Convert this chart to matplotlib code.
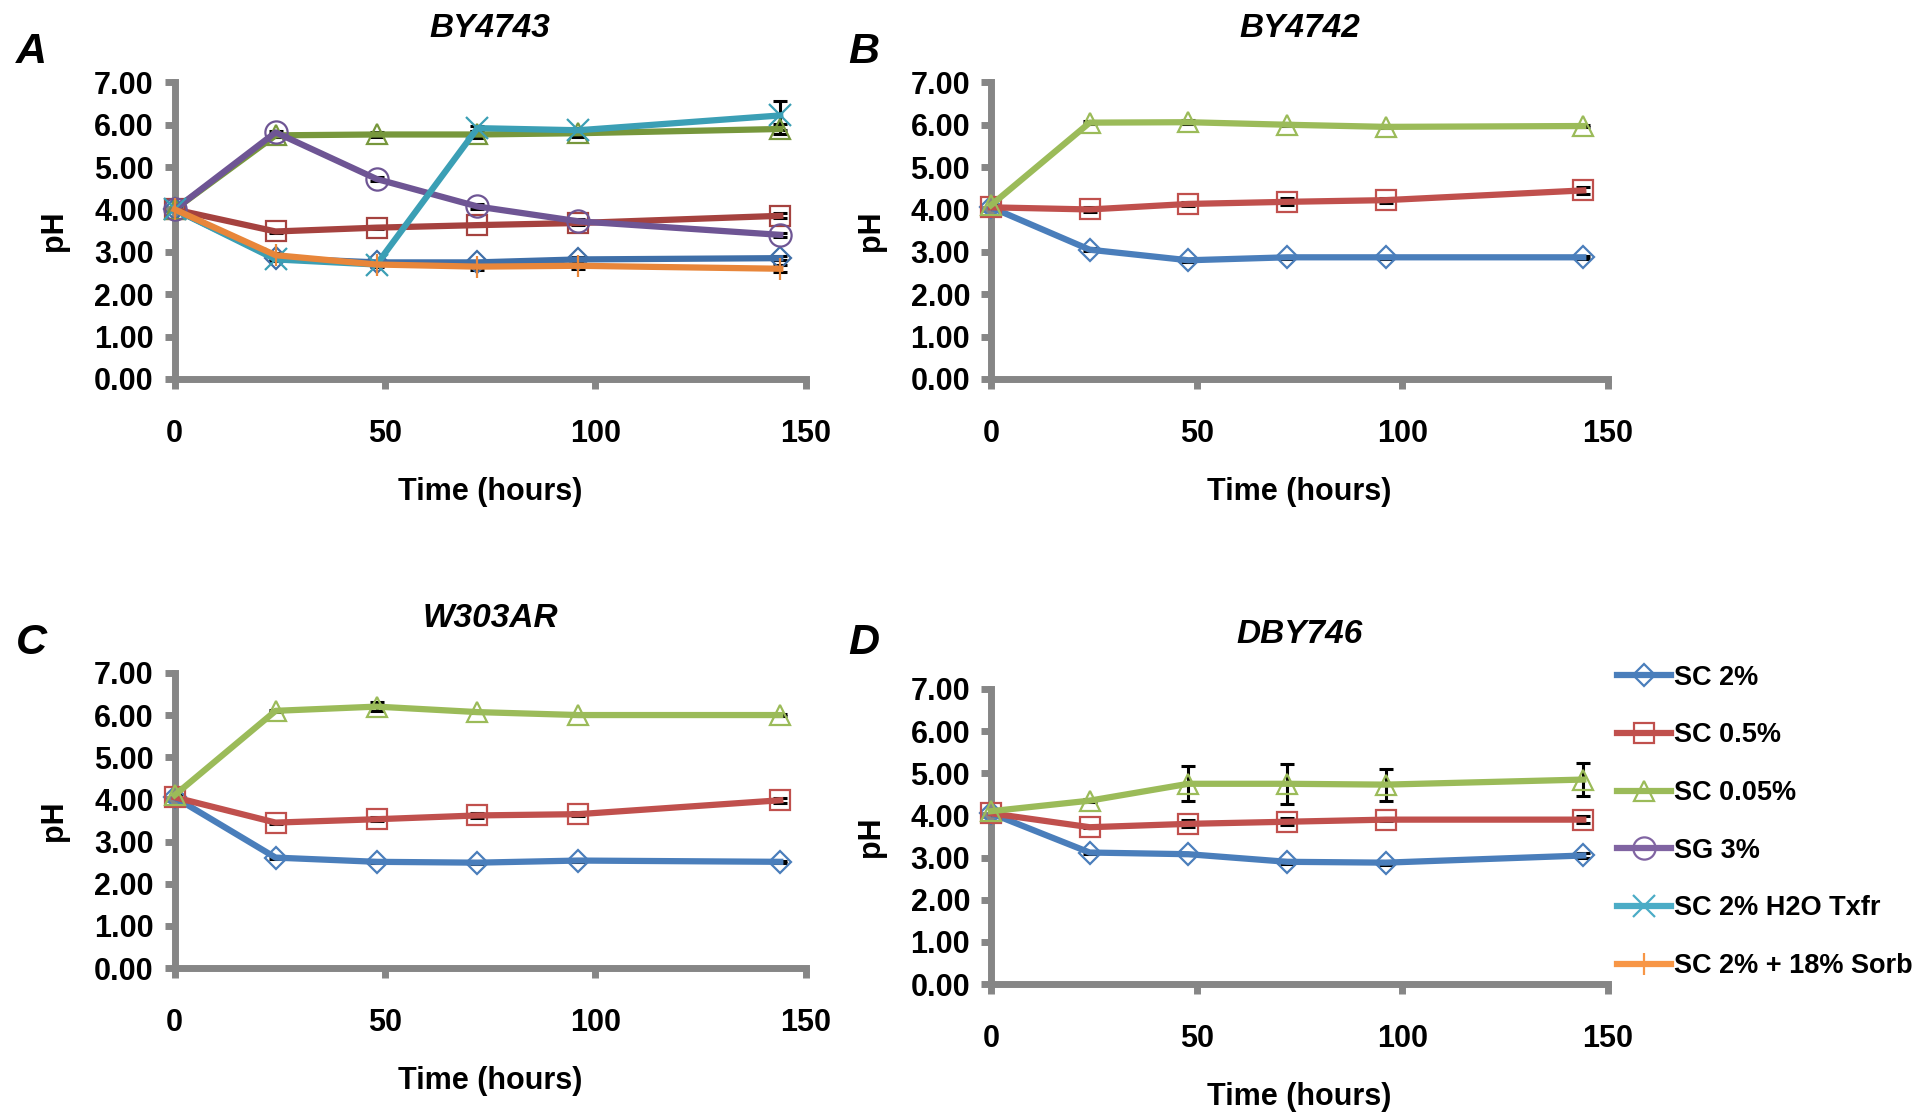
import matplotlib.pyplot as plt
import numpy as np

plt.rcParams['font.family'] = ['Liberation Sans', 'DejaVu Sans']
plt.rcParams['font.weight'] = 'bold'

hours = [0, 24, 48, 72, 96, 144]
labels = ['SC 2%', 'SC 0.5%', 'SC 0.05%', 'SG 3%', 'SC 2% H2O Txfr', 'SC 2% + 18% Sorb']

# panel A - BY4743
a_sc2 = [4.00, 2.85, 2.75, 2.75, 2.82, 2.85]
a_sc05 = [4.00, 3.48, 3.57, 3.63, 3.68, 3.85]
a_sc005 = [4.00, 5.75, 5.77, 5.77, 5.80, 5.90]
a_sg3 = [4.00, 5.82, 4.72, 4.07, 3.72, 3.40]
a_h2o = [4.00, 2.82, 2.70, 5.92, 5.87, 6.22]
a_sorb = [4.00, 2.92, 2.70, 2.65, 2.67, 2.60]
a_err_sc2 = [0.03, 0.03, 0.03, 0.03, 0.05, 0.05]
a_err_sc05 = [0.03, 0.03, 0.03, 0.03, 0.05, 0.06]
a_err_sc005 = [0.03, 0.03, 0.06, 0.08, 0.08, 0.12]
a_err_sg3 = [0.03, 0.03, 0.05, 0.05, 0.05, 0.05]
a_err_h2o = [0.03, 0.03, 0.03, 0.06, 0.06, 0.35]
a_err_sorb = [0.03, 0.05, 0.05, 0.08, 0.08, 0.08]

# panel B - BY4742
b_sc2 = [4.05, 3.05, 2.80, 2.87, 2.87, 2.87]
b_sc05 = [4.05, 4.00, 4.13, 4.18, 4.22, 4.45]
b_sc005 = [4.10, 6.05, 6.06, 6.00, 5.95, 5.97]
b_err_sc2 = [0.03, 0.03, 0.03, 0.03, 0.03, 0.03]
b_err_sc05 = [0.03, 0.05, 0.05, 0.08, 0.06, 0.08]
b_err_sc005 = [0.03, 0.03, 0.05, 0.03, 0.03, 0.03]

# panel C - W303AR
c_sc2 = [4.05, 2.62, 2.52, 2.50, 2.55, 2.52]
c_sc05 = [4.05, 3.45, 3.53, 3.62, 3.65, 3.98]
c_sc005 = [4.10, 6.10, 6.20, 6.07, 6.00, 6.00]
c_err_sc2 = [0.03, 0.03, 0.03, 0.03, 0.03, 0.03]
c_err_sc05 = [0.03, 0.03, 0.05, 0.05, 0.05, 0.06]
c_err_sc005 = [0.03, 0.03, 0.10, 0.03, 0.03, 0.03]

# panel D - DBY746
d_sc2 = [4.05, 3.12, 3.08, 2.90, 2.88, 3.05]
d_sc05 = [4.05, 3.72, 3.80, 3.85, 3.90, 3.90]
d_sc005 = [4.10, 4.35, 4.75, 4.75, 4.73, 4.85]
d_err_sc2 = [0.03, 0.03, 0.03, 0.05, 0.05, 0.05]
d_err_sc05 = [0.03, 0.03, 0.08, 0.08, 0.03, 0.08]
d_err_sc005 = [0.03, 0.03, 0.42, 0.48, 0.38, 0.40]

colors = ['#4A7EBB', '#C0504D', '#9BBB59', '#8064A2', '#4BACC6', '#F79646']
colors_a = ['#3F6FA8', '#A5423F', '#77973C', '#6E5594', '#3B9FB5', '#E8863A']
markers = ['D', 's', '^', 'o', 'x', '|']
msizes = [11, 15, 15, 16, 16, 16]

fig = plt.figure(figsize=(19.28, 11.12), dpi=100)
axA = fig.add_axes([0.0906, 0.6593, 0.3272, 0.2666])
axB = fig.add_axes([0.514, 0.6593, 0.320, 0.2666])
axC = fig.add_axes([0.0906, 0.1294, 0.3272, 0.2655])
axD = fig.add_axes([0.514, 0.115, 0.320, 0.2655])

panels = [
    (axA, 'BY4743', 'A', (0.008, 0.953), [a_sc2, a_sc05, a_sc005, a_sg3, a_h2o, a_sorb],
     [a_err_sc2, a_err_sc05, a_err_sc005, a_err_sg3, a_err_h2o, a_err_sorb], colors_a),
    (axB, 'BY4742', 'B', (0.440, 0.953), [b_sc2, b_sc05, b_sc005],
     [b_err_sc2, b_err_sc05, b_err_sc005], colors),
    (axC, 'W303AR', 'C', (0.008, 0.422), [c_sc2, c_sc05, c_sc005],
     [c_err_sc2, c_err_sc05, c_err_sc005], colors),
    (axD, 'DBY746', 'D', (0.440, 0.422), [d_sc2, d_sc05, d_sc005],
     [d_err_sc2, d_err_sc05, d_err_sc005], colors),
]

gray = '#868686'
for ax, title, letter, lpos, series, errs, cols in panels:
    for i, (vals, err) in enumerate(zip(series, errs)):
        ax.errorbar(hours, vals, yerr=err, fmt='none', ecolor='black',
                    elinewidth=2.2, capsize=5, capthick=2.2, zorder=3)
        ax.plot(hours, vals, color=cols[i], lw=4.5, marker=markers[i],
                ms=msizes[i], mfc='none', mec=cols[i], mew=1.6,
                label=labels[i], zorder=4, clip_on=False)
    ax.set_xlim(0, 150)
    ax.set_ylim(0, 7)
    ax.set_xticks([0, 50, 100, 150])
    ax.set_yticks(np.arange(0, 8, 1))
    ax.yaxis.set_major_formatter(plt.FormatStrFormatter('%.2f'))
    for s in ['top', 'right']:
        ax.spines[s].set_visible(False)
    for s in ['left', 'bottom']:
        ax.spines[s].set_color(gray)
        ax.spines[s].set_linewidth(5)
    ax.tick_params(axis='both', colors=gray, width=5, length=7, labelsize=22,
                   labelcolor='black')
    ax.tick_params(axis='x', pad=22)
    ax.tick_params(axis='y', pad=8)
    ax.set_xlabel('Time (hours)', fontsize=22, fontweight='bold', labelpad=20)
    ax.set_ylabel('pH', fontsize=22, fontweight='bold', labelpad=18)
    ax.set_title(title, fontsize=24, fontweight='bold', fontstyle='italic', pad=33)
    fig.text(lpos[0], lpos[1], letter, fontsize=31, fontweight='bold',
             fontstyle='italic', ha='left', va='center')

# legend uses the lighter colours
leg_handles = []
for i in range(6):
    h, = axD.plot([], [], color=colors[i], lw=4.5, marker=markers[i], ms=msizes[i],
                  mfc='none', mec=colors[i], mew=1.6)
    leg_handles.append(h)
fig.legend(leg_handles, labels, loc='upper left', bbox_to_anchor=(0.833, 0.412),
           frameon=False, fontsize=19.5, handlelength=2.0, handletextpad=0.1,
           labelspacing=1.17, borderaxespad=0)

fig.savefig('out.png', dpi=100)
